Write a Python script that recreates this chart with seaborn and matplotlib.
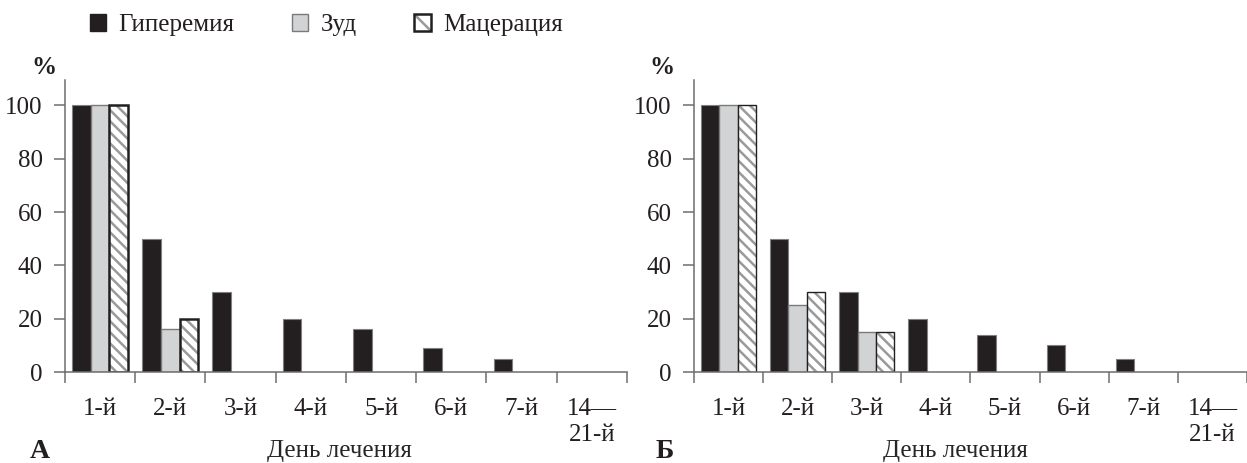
import numpy as np
import pandas as pd
import matplotlib
matplotlib.use("Agg")
import matplotlib.pyplot as plt
import matplotlib.colors as mcolors
from matplotlib.patches import Patch
import seaborn as sns

days = ["1-й", "2-й", "3-й", "4-й", "5-й", "6-й", "7-й", "14—\n21-й"]
signs = ["Гиперемия", "Зуд", "Мацерация"]

# панель А
a_hyper = [100, 50, 30, 20, 16, 9, 5, 0]
a_itch = [100, 16, 0, 0, 0, 0, 0, 0]
a_macer = [100, 20, 0, 0, 0, 0, 0, 0]

# панель Б
b_hyper = [100, 50, 30, 20, 14, 10, 5, 0]
b_itch = [100, 25, 15, 0, 0, 0, 0, 0]
b_macer = [100, 30, 15, 0, 0, 0, 0, 0]

BLACK = "#231f20"
GREY = "#d1d3d4"
AXIS = "#6d6e71"
HATCH = "#9a9a9a"

sns.set_style("ticks")
plt.rcParams["font.family"] = ["Liberation Serif", "DejaVu Serif"]
plt.rcParams["hatch.linewidth"] = 1.8
plt.rcParams["text.color"] = BLACK
plt.rcParams["xtick.color"] = AXIS
plt.rcParams["ytick.color"] = AXIS
plt.rcParams["xtick.labelcolor"] = BLACK
plt.rcParams["ytick.labelcolor"] = BLACK


def make_df(h, z, m):
    rows = []
    for vals, s in zip([h, z, m], signs):
        for d, v in zip(days, vals):
            rows.append({"day": d, "sign": s, "value": v})
    return pd.DataFrame(rows)


def style_bars(ax, macer_lw):
    styles = [
        dict(fc=BLACK, ec="#808080", lw=0.8, hatch=None),
        dict(fc=GREY, ec="#7a7a7a", lw=1.0, hatch=None),
        dict(fc="white", ec=BLACK, lw=macer_lw, hatch="\\\\\\"),
    ]
    for cont, st in zip(ax.containers, styles):
        for bar in cont:
            if bar.get_height() == 0:
                bar.set_visible(False)
                continue
            bar.set_facecolor(st["fc"])
            bar.set_edgecolor(st["ec"])
            bar.set_linewidth(st["lw"])
            if st["hatch"]:
                bar.set_hatch(st["hatch"])
                bar._hatch_color = mcolors.to_rgba(HATCH)


def draw(ax, df, macer_lw, xmax, label_x):
    sns.barplot(data=df, x="day", y="value", hue="sign", order=days,
                hue_order=signs, palette=[BLACK, GREY, "white"], width=0.8,
                saturation=1, errorbar=None, legend=False, ax=ax)
    style_bars(ax, macer_lw)
    ax.set_ylim(0, 109.5)
    ax.set_xlim(-0.5, xmax)
    ax.set_yticks(range(0, 101, 20))
    ax.set_xticks(range(len(days)))
    ax.set_xticklabels(days)
    ax.set_xticks(np.arange(-0.5, len(days), 1), minor=True)
    ax.tick_params(axis="x", which="major", length=0, pad=19, labelsize=18)
    ax.tick_params(axis="x", which="minor", length=8, width=1.1)
    ax.tick_params(axis="y", length=8, width=1.1, pad=8, labelsize=18)
    for sp in ["top", "right"]:
        ax.spines[sp].set_visible(False)
    for sp in ["left", "bottom"]:
        ax.spines[sp].set_color(AXIS)
        ax.spines[sp].set_linewidth(1.1)
    ax.set_ylabel("")
    ax.set_xlabel("День лечения", fontsize=18, va="center")
    ax.xaxis.set_label_coords(label_x, -0.272)


fig = plt.figure(figsize=(12.47, 4.63), dpi=100)
ax_a = fig.add_axes([0.0521, 0.1965, 0.4507, 0.6307])
ax_b = fig.add_axes([0.5565, 0.1965, 0.4435, 0.6307])

draw(ax_a, make_df(a_hyper, a_itch, a_macer), 1.8, 7.5, 0.489)
draw(ax_b, make_df(b_hyper, b_itch, b_macer), 1.0, 7.4, 0.472)

fig.text(0.035, 0.855, "%", fontsize=18, fontweight="bold", ha="center", va="center")
fig.text(0.531, 0.855, "%", fontsize=18, fontweight="bold", ha="center", va="center")
fig.text(0.032, 0.024, "А", fontsize=20, fontweight="bold", ha="center", va="center")
fig.text(0.533, 0.024, "Б", fontsize=20, fontweight="bold", ha="center", va="center")

handles = [
    Patch(facecolor=BLACK, edgecolor=BLACK, linewidth=1),
    Patch(facecolor=GREY, edgecolor="#7a7a7a", linewidth=1),
    Patch(facecolor="white", edgecolor=BLACK, linewidth=1.8, hatch="\\\\"),
]
leg = fig.legend(handles, signs, loc="center left", bbox_to_anchor=(0.072, 0.946),
                 ncol=3, frameon=False, fontsize=18, handlelength=0.65,
                 handleheight=0.65, handletextpad=0.5, columnspacing=2.3,
                 borderpad=0, borderaxespad=0)
leg.legend_handles[2]._hatch_color = mcolors.to_rgba(HATCH)

fig.savefig("out.png", dpi=100)
